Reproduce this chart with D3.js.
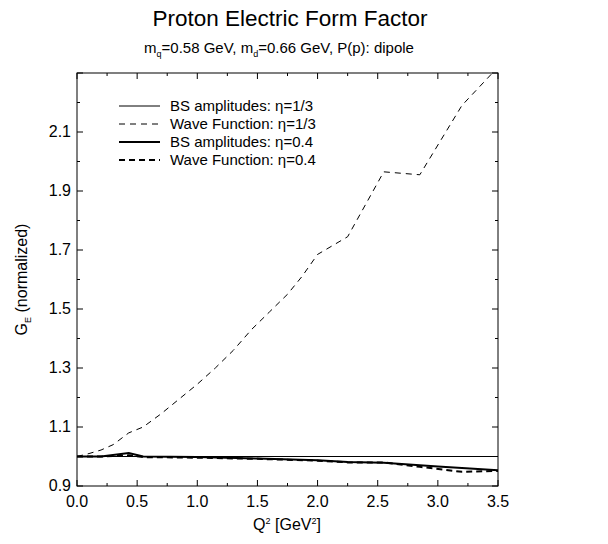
<!DOCTYPE html>
<html>
<head>
<meta charset="utf-8">
<script src="https://cdn.jsdelivr.net/npm/d3@7"></script>
<style>
  body { margin: 0; background: white; }
  text { font-family: "Liberation Sans", Arial, sans-serif; fill: black; }
</style>
</head>
<body>
<div id="canvas"></div>
<script>
"use strict"

/* Data */
let bsThirdQ = [0, 3.5];
let bsThirdV = [1.0, 1.0];

let wfThirdQ = [0, 0.1, 0.2, 0.3, 0.43, 0.55, 0.7, 0.85, 1.0, 1.15, 1.3, 1.45, 1.6, 1.75, 1.87, 2.0, 2.25, 2.55, 2.85, 3.2, 3.5];
let wfThirdV = [1.0, 1.01, 1.022, 1.04, 1.08, 1.10, 1.145, 1.195, 1.245, 1.30, 1.36, 1.43, 1.49, 1.55, 1.61, 1.685, 1.745, 1.965, 1.955, 2.19, 2.32];

let bsFourQ = [0, 0.2, 0.43, 0.55, 1.0, 1.5, 2.0, 2.25, 2.55, 3.0, 3.5];
let bsFourV = [1.0, 1.0, 1.012, 1.0, 0.998, 0.993, 0.987, 0.981, 0.979, 0.966, 0.953];

let wfFourQ = [0, 0.2, 0.43, 0.55, 1.0, 1.5, 2.0, 2.25, 2.55, 2.85, 3.2, 3.5];
let wfFourV = [1.0, 1.0, 1.004, 0.998, 0.996, 0.992, 0.986, 0.98, 0.98, 0.965, 0.948, 0.951];

let xTickLabels = ["0.0", "0.5", "1.0", "1.5", "2.0", "2.5", "3.0", "3.5"];
let yTickLabels = ["0.9", "1.1", "1.3", "1.5", "1.7", "1.9", "2.1"];

let legendNames = ["BS amplitudes: \u03b7=1/3", "Wave Function: \u03b7=1/3", "BS amplitudes: \u03b7=0.4", "Wave Function: \u03b7=0.4"];

/* Configuration variables: drawing */
let svgWidth = 608;
let svgHeight = 544;
let plotLeft = 77, plotRight = 498, plotTop = 73, plotBottom = 486;

let svg = d3.select("#canvas")
    .append("svg")
    .attr("width", svgWidth)
    .attr("height", svgHeight);

let x = d3.scaleLinear().domain([0, 3.5]).range([plotLeft, plotRight]);
let y = d3.scaleLinear().domain([0.9, 2.3]).range([plotBottom, plotTop]);

/* Titles */
svg.append("text")
    .attr("x", 290).attr("y", 26)
    .attr("text-anchor", "middle")
    .style("font-size", "22.5px")
    .text("Proton Electric Form Factor");

let sub = svg.append("text")
    .attr("x", 279).attr("y", 53)
    .attr("text-anchor", "middle")
    .style("font-size", "15px");
sub.append("tspan").text("m");
sub.append("tspan").attr("dy", 4).style("font-size", "9px").text("q");
sub.append("tspan").attr("dy", -4).text("=0.58 GeV, m");
sub.append("tspan").attr("dy", 4).style("font-size", "9px").text("d");
sub.append("tspan").attr("dy", -4).text("=0.66 GeV, P(p): dipole");

/* Axis titles */
let xl = svg.append("text")
    .attr("x", 287).attr("y", 530)
    .attr("text-anchor", "middle")
    .style("font-size", "16px");
xl.append("tspan").text("Q");
xl.append("tspan").attr("dy", -6).style("font-size", "9px").text("2");
xl.append("tspan").attr("dy", 6).text(" [GeV");
xl.append("tspan").attr("dy", -6).style("font-size", "9px").text("2");
xl.append("tspan").attr("dy", 6).text("]");

let yl = svg.append("text")
    .attr("transform", "translate(27," + ((plotTop + plotBottom) / 2) + ") rotate(-90)")
    .attr("text-anchor", "middle")
    .style("font-size", "16px");
yl.append("tspan").text("G");
yl.append("tspan").attr("dy", 4).style("font-size", "9px").text("E");
yl.append("tspan").attr("dy", -4).text(" (normalized)");

/* Ticks, pointing inward on all four sides */
let xMinor = d3.range(0, 3.5001, 0.25);
let yMinor = d3.range(0.9, 2.3001, 0.1);

let ticks = svg.append("g");

xMinor.forEach(function (q, i) {
    let len = (i % 2 === 0) ? 6 : 3;
    ticks.append("line").attr("x1", x(q)).attr("x2", x(q)).attr("y1", plotBottom).attr("y2", plotBottom - len);
    ticks.append("line").attr("x1", x(q)).attr("x2", x(q)).attr("y1", plotTop).attr("y2", plotTop + len);
});
yMinor.forEach(function (v, i) {
    let len = (i % 2 === 0) ? 6 : 3;
    ticks.append("line").attr("x1", plotLeft).attr("x2", plotLeft + len).attr("y1", y(v)).attr("y2", y(v));
    ticks.append("line").attr("x1", plotRight).attr("x2", plotRight - len).attr("y1", y(v)).attr("y2", y(v));
});
ticks.selectAll("line").attr("stroke", "black").attr("stroke-width", 1);

svg.append("g")
    .selectAll("text")
    .data(xTickLabels)
    .join("text")
    .attr("x", function (d) { return x(+d); })
    .attr("y", plotBottom + 21)
    .attr("text-anchor", "middle")
    .style("font-size", "16px")
    .text(function (d) { return d; });

svg.append("g")
    .selectAll("text")
    .data(yTickLabels)
    .join("text")
    .attr("x", plotLeft - 6)
    .attr("y", function (d) { return y(+d) + 5; })
    .attr("text-anchor", "end")
    .style("font-size", "16px")
    .text(function (d) { return d; });

/* Frame */
svg.append("rect")
    .attr("x", plotLeft).attr("y", plotTop)
    .attr("width", plotRight - plotLeft).attr("height", plotBottom - plotTop)
    .attr("fill", "none")
    .attr("stroke", "black")
    .attr("stroke-width", 1);

/* Curves */
svg.append("clipPath").attr("id", "clip")
    .append("rect")
    .attr("x", plotLeft).attr("y", plotTop)
    .attr("width", plotRight - plotLeft).attr("height", plotBottom - plotTop);

let series = [
    { q: bsThirdQ, v: bsThirdV, width: 1, dash: null },
    { q: wfThirdQ, v: wfThirdV, width: 1, dash: "6,5" },
    { q: bsFourQ, v: bsFourV, width: 2, dash: null },
    { q: wfFourQ, v: wfFourV, width: 2, dash: "6,4" }
];

let line = d3.line()
    .x(function (d) { return x(d[0]); })
    .y(function (d) { return y(d[1]); });

let plot = svg.append("g").attr("clip-path", "url(#clip)");
series.forEach(function (s) {
    plot.append("path")
        .attr("d", line(d3.zip(s.q, s.v)))
        .attr("fill", "none")
        .attr("stroke", "black")
        .attr("stroke-width", s.width)
        .attr("stroke-dasharray", s.dash);
});

/* Legend */
let legend = svg.append("g");
series.forEach(function (s, i) {
    let ly = 106 + i * 18;
    legend.append("line")
        .attr("x1", 119).attr("x2", 160)
        .attr("y1", ly).attr("y2", ly)
        .attr("stroke", "black")
        .attr("stroke-width", s.width)
        .attr("stroke-dasharray", s.dash);
    legend.append("text")
        .attr("x", 170).attr("y", ly + 5)
        .style("font-size", "15px")
        .text(legendNames[i]);
});
</script>
</body>
</html>
